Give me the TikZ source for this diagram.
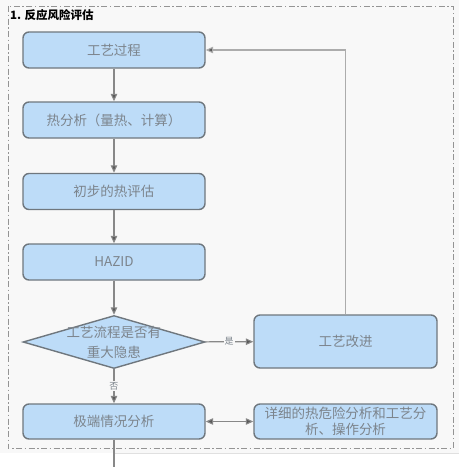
\documentclass[tikz,border=0pt]{standalone}
\usepackage{fontspec}
\setmainfont{Noto Sans CJK SC}
\usetikzlibrary{shapes.geometric,arrows.meta}
\definecolor{boxfill}{HTML}{BDDCF8}
\definecolor{boxline}{HTML}{6F777E}
\definecolor{wire}{HTML}{888888}
\definecolor{txtgray}{HTML}{7C848C}
\definecolor{panel}{HTML}{F8F8F8}
\begin{document}
\begin{tikzpicture}[x=1pt,y=-1pt,
    box/.style={draw=boxline,line width=1.4pt,fill=boxfill,rounded corners=6pt,
      minimum width=182pt,minimum height=36pt,inner sep=0pt,
      font=\fontsize{13.5}{17}\selectfont,text=txtgray},
    decision/.style={diamond,draw=boxline,line width=1.4pt,fill=boxfill,
      minimum width=182pt,minimum height=53pt,inner sep=0pt},
    flow/.style={draw=wire,line width=1.1pt,-{Triangle[length=7.5pt,width=6.5pt,fill=black!65]}},
    tag/.style={fill=panel,inner sep=1pt,text=txtgray,font=\fontsize{9}{10}\selectfont}]
  % canvas
  \useasboundingbox (0,0) rectangle (459,467);
  \fill[panel] (0,0) rectangle (459,453);
  \draw[black!12] (115,453) -- (459,453);
  \draw[wire!90,line width=0.9pt,dash pattern=on 6pt off 2.5pt on 1.5pt off 2.5pt]
    (8,6) rectangle (453,448);
  \node[anchor=west,inner sep=0pt,font=\fontsize{11.5}{13}\selectfont\bfseries] (title)
    at (10,15) {1. 反应风险评估};

  % left column
  \node[box] (proc) at (114,50) {工艺过程};
  \node[box] (therm) at (114,120) {热分析（量热、计算）};
  \node[box] (prelim) at (114,191.5) {初步的热评估};
  \node[box] (hazid) at (114,262) {HAZID};
  \node[decision] (chk) at (114,342) {};
  \node[align=center,inner sep=0pt,text=txtgray,font=\fontsize{13.5}{20}\selectfont]
    (chk-t) at (chk) {工艺流程是否有\\重大隐患};
  \node[box,minimum height=35pt] (extreme) at (114,421.5) {极端情况分析};

  % right column
  \node[box,minimum width=183pt,minimum height=53pt] (improve) at (345.5,341.5) {工艺改进};
  \node[box,minimum width=183pt,minimum height=35pt,text width=172pt,align=center,
    font=\fontsize{13.5}{16}\selectfont] (detail) at (345.5,421.5)
    {详细的热危险分析和工艺分\\析、操作分析};

  % connectors
  \draw[flow] (proc) -- (therm);
  \draw[flow] (therm) -- (prelim);
  \draw[flow] (prelim) -- (hazid);
  \draw[flow] (hazid) -- (chk);
  \draw[flow] (chk) -- node[tag] (no) {否} (extreme);
  \draw[flow] (chk) -- node[tag] (yes) {是} (improve);
  \draw[flow,draw=wire!70] (improve.north) -- (improve.north |- proc.east) -- (proc.east);
  \draw[flow,{Triangle[length=7.5pt,width=6.5pt,fill=black!65]}-{Triangle[length=7.5pt,width=6.5pt,fill=black!65]}]
    (extreme) -- (detail);
  \coordinate (out) at (114,467);
  \draw[draw=wire,line width=1.1pt] (extreme) -- (out);
\end{tikzpicture}
\end{document}
